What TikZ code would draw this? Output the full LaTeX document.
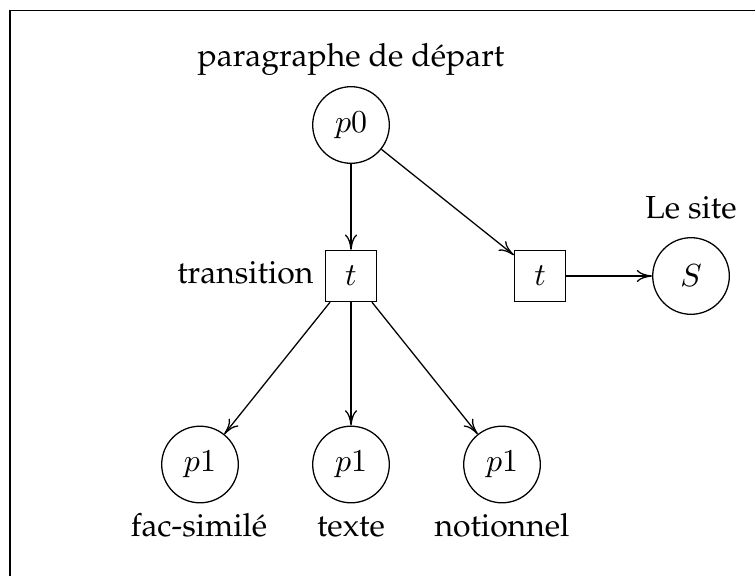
\documentclass[tikz,border=0pt]{standalone}
\usepackage[T1]{fontenc}
\usepackage{palatino}
\usetikzlibrary{arrows.meta}
\begin{document}
\begin{tikzpicture}[x=0.3133pt,y=-0.3133pt,
  place/.style={draw,circle,minimum size=24pt,inner sep=0pt,line width=0.4pt},
  trans/.style={draw,rectangle,minimum size=16pt,inner sep=0pt,line width=0.4pt},
  lbl/.style={inner sep=0pt,anchor=base},
  arr/.style={-{To[length=4.8pt,width=3.8pt]},line width=0.4pt}]
\useasboundingbox (0,0) rectangle (755,575);
\draw[line width=0.45pt] (10,600) -- (10,10.7) -- (780,10.7);
% nodes
\node[place] (p0) at (351,125) {$p0$};
\node[trans] (t1) at (351,276) {$t$};
\node[trans] (t2) at (540,276) {$t$};
\node[place] (S) at (691,276) {$S$};
\node[place] (pa) at (200,464.5) {$p1$};
\node[place] (pb) at (351,464.5) {$p1$};
\node[place] (pc) at (502,464.5) {$p1$};
% labels
\node[lbl] (lp0) at (351,66.7) {paragraphe de départ};
\node[lbl] (lS) at (691,218) {Le site};
\node[lbl,anchor=base east] (lt1) at (314,283) {transition};
\node[lbl] (lpa) at (199,536.5) {fac-similé};
\node[lbl] (lpb) at (351,536.5) {texte};
\node[lbl] (lpc) at (502,536.5) {notionnel};
% arcs
\draw[arr] (p0) -- (t1);
\draw[arr] (p0) -- (t2);
\draw[arr] (t2) -- (S);
\draw[arr] (t1) -- (pa);
\draw[arr] (t1) -- (pb);
\draw[arr] (t1) -- (pc);
\end{tikzpicture}
\end{document}
